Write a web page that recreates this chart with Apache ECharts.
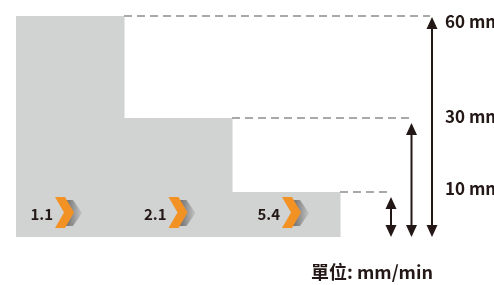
<!DOCTYPE html>
<html>
<head>
<meta charset="utf-8">
<script src="https://cdn.jsdelivr.net/npm/echarts@6/dist/echarts.min.js"></script>
<style>
  html, body { margin: 0; padding: 0; background: #fff; }
  #chart { width: 494px; height: 285px; }
</style>
</head>
<body>
<div id="chart"></div>
<script>
// speeds shown on each step (mm/min)
const speeds = [1.1, 2.1, 5.4];
// step labels, tallest first
const stepLabels = ['60 mm', '30 mm', '10 mm'];
// drawn height of each step on the y axis (figure is not to scale)
const stepLevels = [60, 32.3, 12.2];
const unitLabel = '單位: mm/min';

const FONT = '"Noto Sans CJK TC", "Noto Sans", sans-serif';
const INK = '#231815';

const chart = echarts.init(document.getElementById('chart'));

// x of the vertical arrow for step i (arrows sit right of the steps)
function arrowX(api, i) {
    const right = api.coord([3, 0])[0];
    return right + 51 + (2 - i) * 20.5;
}

function arrowHead(x, y, dir) {
    // dir = -1 up, 1 down; y is the tip
    return {
        type: 'polygon',
        shape: { points: [[x, y], [x - 5.5, y - dir * 12], [x + 5.5, y - dir * 12]] },
        style: { fill: INK }
    };
}

const option = {
    animation: false,
    textStyle: { fontFamily: FONT },
    grid: { left: 16, top: 16, width: 324, height: 221 },
    xAxis: { type: 'value', min: 0, max: 3, show: false },
    yAxis: { type: 'value', min: 0, max: 60, show: false },
    graphic: [{
        type: 'text',
        left: 311,
        top: 263,
        style: { text: unitLabel, font: 'bold 18px ' + FONT, fill: INK }
    }],
    series: [
        {
            // staircase blocks
            type: 'custom',
            data: stepLevels.map((v, i) => [i, v]),
            renderItem: function (params, api) {
                const i = api.value(0);
                const p0 = api.coord([i, 0]);
                const p1 = api.coord([i + 1, api.value(1)]);
                return {
                    type: 'rect',
                    shape: { x: p0[0], y: p1[1], width: p1[0] - p0[0] + 0.5, height: p0[1] - p1[1] },
                    style: { fill: '#d1d2d2' }
                };
            }
        },
        {
            // dashed guides, arrows and mm labels
            type: 'custom',
            clip: false,
            data: stepLevels.map((v, i) => [i, v]),
            renderItem: function (params, api) {
                const i = api.value(0);
                const corner = api.coord([i + 1, api.value(1)]);
                const bottom = api.coord([0, 0])[1];
                const ax = arrowX(api, i);
                const top = corner[1] + (i === 0 ? 1 : 5);
                const nudge = [6, -1, -4][i];
                return {
                    type: 'group',
                    children: [
                        {
                            type: 'line',
                            shape: { x1: corner[0], y1: corner[1], x2: ax - 2, y2: corner[1] },
                            style: { stroke: '#a9a9a9', lineWidth: 2, lineDash: [8, 5] }
                        },
                        {
                            type: 'line',
                            shape: { x1: ax, y1: top + 6, x2: ax, y2: bottom - 6 },
                            style: { stroke: INK, lineWidth: 2 }
                        },
                        arrowHead(ax, top, -1),
                        arrowHead(ax, bottom, 1),
                        {
                            type: 'text',
                            x: arrowX(api, 0) + 13,
                            y: corner[1] + nudge,
                            style: {
                                text: stepLabels[i],
                                font: 'bold 17px ' + FONT,
                                fill: INK,
                                verticalAlign: 'middle'
                            }
                        }
                    ]
                };
            }
        },
        {
            // speed labels with chevrons
            type: 'custom',
            data: speeds.map((s, i) => [i, s]),
            renderItem: function (params, api) {
                const i = api.value(0);
                const base = api.coord([i, 0]);
                const x0 = base[0] + 39 + 5.5 * i;
                const yT = base[1] - 40;
                const chev = (dx, t, h) => [
                    [x0 + dx, yT + t], [x0 + dx + 10, yT + t], [x0 + dx + 19, yT + t + h / 2],
                    [x0 + dx + 10, yT + t + h], [x0 + dx, yT + t + h], [x0 + dx + 9, yT + t + h / 2]
                ];
                return {
                    type: 'group',
                    children: [
                        {
                            type: 'polygon',
                            shape: { points: chev(8, 3, 26) },
                            style: {
                                fill: new echarts.graphic.LinearGradient(0, 0, 1, 0, [
                                    { offset: 0, color: '#5e5e5e' },
                                    { offset: 1, color: '#c4c4c4' }
                                ])
                            }
                        },
                        {
                            type: 'polygon',
                            shape: { points: chev(0, 0, 31) },
                            style: { fill: '#f29224' }
                        },
                        {
                            type: 'text',
                            x: x0 - 2,
                            y: yT + 17,
                            style: {
                                text: api.value(1).toFixed(1),
                                font: 'bold 15px ' + FONT,
                                fill: INK,
                                align: 'right',
                                verticalAlign: 'middle'
                            }
                        }
                    ]
                };
            }
        }
    ]
};

chart.setOption(option);
</script>
</body>
</html>
